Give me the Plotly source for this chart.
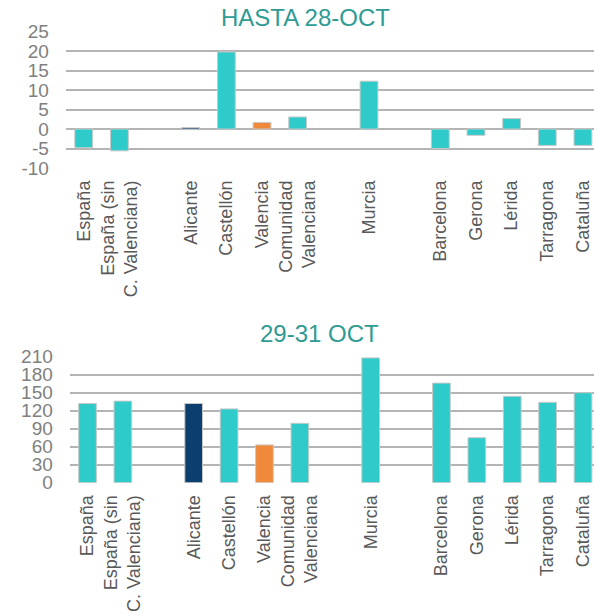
import plotly.graph_objects as go

categories = ["España", "España (sin<br>C. Valenciana)", " ", "Alicante", "Castellón",
              "Valencia", "Comunidad<br>Valenciana", "  ", "Murcia", "   ",
              "Barcelona", "Gerona", "Lérida", "Tarragona", "Cataluña"]
hasta_28 = [-4.8, -5.6, None, 0.4, 19.8, 1.7, 3.1, None, 12.3, None, -5.0, -1.6, 2.7, -4.2, -4.2]
oct_29_31 = [132, 136, None, 132, 123, 63, 99, None, 208, None, 166, 75, 144, 134, 150]
top_ticks = [25, 20, 15, 10, 5, 0, -5, -10]
top_tick_text = ["25", "20", "15", "10", "5", "0", "-5", "-10"]
bottom_ticks = [210, 180, 150, 120, 90, 60, 30, 0]

TEAL = "#2ECBCA"
NAVY = "#0C3E6E"
ORANGE = "#F08A3A"
colors = [TEAL, TEAL, TEAL, NAVY, TEAL, ORANGE, TEAL, TEAL, TEAL, TEAL, TEAL, TEAL, TEAL, TEAL, TEAL]

FONT = "Liberation Sans, Arial, sans-serif"
W, H = 594, 616


def px(x):
    return x / W


def py(y):
    return 1 - y / H


fig = go.Figure()
fig.add_trace(go.Bar(x=categories, y=hasta_28, marker=dict(color=colors, line=dict(color="#c8c8c8", width=1)),
                     width=0.5, xaxis="x", yaxis="y", showlegend=False))
fig.add_trace(go.Bar(x=categories, y=oct_29_31, marker=dict(color=colors, line=dict(color="#c8c8c8", width=1)),
                     width=0.5, xaxis="x2", yaxis="y2", showlegend=False))

grid = dict(showgrid=True, gridcolor="#b4b4b4", gridwidth=2, zeroline=False, showline=False,
            tickfont=dict(family=FONT, size=19, color="#808080"), ticks="", ticklabelstandoff=16,
            automargin=False, fixedrange=True)
xcommon = dict(type="category", range=[-0.5, 14.31], showgrid=False, zeroline=False, showline=False,
               tickangle=-90, tickfont=dict(family=FONT, size=18, color="#595959"), ticks="",
               ticklabelstandoff=8, fixedrange=True, automargin=False)

fig.update_layout(
    width=W, height=H, margin=dict(l=0, r=0, t=0, b=0, autoexpand=False),
    paper_bgcolor="white", plot_bgcolor="white", bargap=0.5,
    xaxis=dict(domain=[px(65.9), 1], anchor="y", **xcommon),
    yaxis=dict(domain=[py(168), py(31.7)], anchor="x", range=[-10, 25],
               tickvals=top_ticks, ticktext=top_tick_text, **grid),
    xaxis2=dict(domain=[px(69.8), 1], anchor="y2", **xcommon),
    yaxis2=dict(domain=[py(482.7), py(356.7)], anchor="x2", range=[0, 210],
                tickvals=bottom_ticks, **grid),
    annotations=[
        dict(text="HASTA 28-OCT", x=px(305.5), y=py(17), xref="paper", yref="paper",
             xanchor="center", yanchor="middle", showarrow=False,
             font=dict(family=FONT, size=24, color="#2E9B94")),
        dict(text="29-31 OCT", x=px(319), y=py(333), xref="paper", yref="paper",
             xanchor="center", yanchor="middle", showarrow=False,
             font=dict(family=FONT, size=24, color="#2E9B94")),
    ],
)

fig.write_html("out.html", config={"displayModeBar": False, "staticPlot": True},
               post_script="document.body.style.margin='0';document.body.style.overflow='hidden';")
